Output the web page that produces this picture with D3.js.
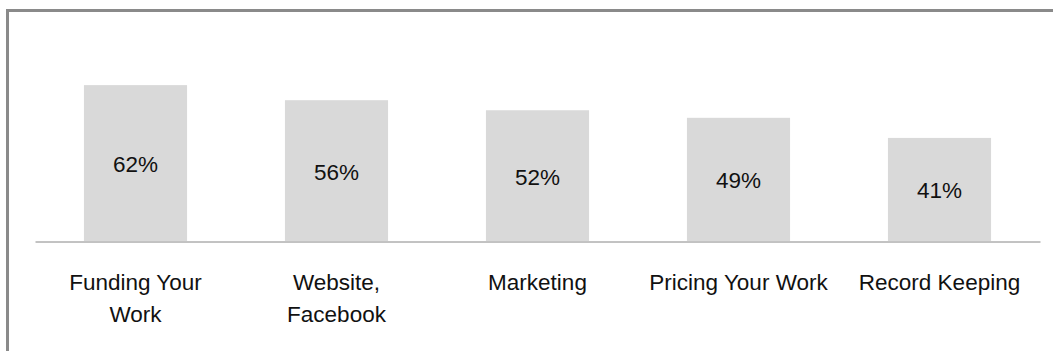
<!DOCTYPE html>
<html>
<head>
<meta charset="utf-8">
<script src="https://cdn.jsdelivr.net/npm/d3@7"></script>
<style>
  html, body { margin: 0; padding: 0; background: #fff; }
  svg { display: block; }
</style>
</head>
<body>
<svg id="chart" width="1053" height="351"></svg>
<script>
// data
var categories = ["Funding Your Work", "Website, Facebook", "Marketing", "Pricing Your Work", "Record Keeping"];
var values = [0.62, 0.56, 0.52, 0.49, 0.41];
var tickLines = [["Funding Your", "Work"], ["Website,", "Facebook"], ["Marketing"], ["Pricing Your Work"], ["Record Keeping"]];

var w = 1053, h = 351;
var fontFam = "'Liberation Sans', Arial, sans-serif";

var svg = d3.select("#chart");

// outer frame (only top and left edges show)
svg.append("path")
   .attr("d", "M7.5,351V10.5H1053")
   .attr("fill", "none")
   .attr("stroke", "#8a8a8a")
   .attr("stroke-width", 3);

var x = d3.scaleBand()
          .domain(categories)
          .range([35, 1040])
          .paddingInner(0.487)
          .paddingOuter(0.2435);

var y = d3.scaleLinear()
          .domain([0, 0.7])
          .range([241, 65]);

// bars
svg.selectAll("rect.bar")
   .data(values)
   .enter()
   .append("rect")
   .attr("class", "bar")
   .attr("x", function(d, i) { return x(categories[i]); })
   .attr("y", function(d) { return y(d); })
   .attr("width", x.bandwidth())
   .attr("height", function(d) { return y(0) - y(d); })
   .attr("fill", "#d9d9d9");

// value labels in middle of bars
svg.selectAll("text.val")
   .data(values)
   .enter()
   .append("text")
   .attr("class", "val")
   .attr("text-anchor", "middle")
   .attr("x", function(d, i) { return x(categories[i]) + x.bandwidth() / 2; })
   .attr("y", function(d) { return (y(d) + y(0)) / 2 + 9; })
   .attr("font-family", fontFam)
   .attr("font-size", "22.5px")
   .attr("fill", "#111")
   .text(function(d) { return Math.round(d * 100) + "%"; });

// category axis
var xAxis = d3.axisBottom(x).tickSize(0).tickPadding(0);
var gx = svg.append("g")
            .attr("transform", "translate(0,241)")
            .call(xAxis);

gx.select(".domain")
  .attr("stroke", "#868686")
  .attr("stroke-width", 1)
  .attr("transform", "translate(0,0.5)");

gx.selectAll(".tick text").each(function(d, i) {
    var t = d3.select(this);
    t.text(null)
     .attr("y", 49)
     .attr("dy", null)
     .attr("font-family", fontFam)
     .attr("font-size", "22.5px")
     .attr("fill", "#111");
    tickLines[i].forEach(function(line, j) {
        t.append("tspan")
         .attr("x", 0)
         .attr("dy", j === 0 ? 0 : 32)
         .text(line);
    });
});
</script>
</body>
</html>
